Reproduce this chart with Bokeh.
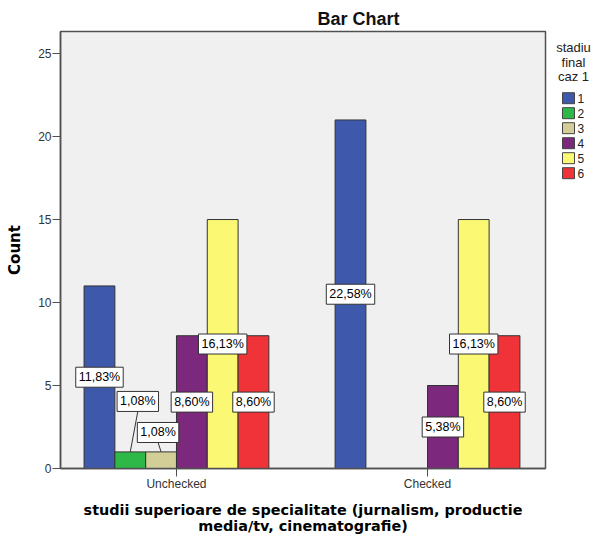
from bokeh.plotting import figure
from bokeh.layouts import row
from bokeh.models import ColumnDataSource, Range1d, FixedTicker
from bokeh.core.properties import value
from bokeh.embed import file_html
from bokeh.resources import INLINE

# ---- data ----
groups = ["Unchecked", "Checked"]
stages = ["1", "2", "3", "4", "5", "6"]
colors = ["#3E58AC", "#2EB848", "#D3CE97", "#7B287D", "#FBF873", "#EF3338"]
counts_unchecked = [11, 1, 1, 8, 15, 8]
counts_checked = [21, 0, 0, 5, 15, 8]
pct_unchecked = ["11,83%", "1,08%", "1,08%", "8,60%", "16,13%", "8,60%"]
pct_checked = ["22,58%", "", "", "5,38%", "16,13%", "8,60%"]
y_ticks = [0, 5, 10, 15, 20, 25]
legend_title = ["stadiu", "final", "caz 1"]

# ---- layout constants ----
BAR_W = 0.1227
FONT = "Liberation Sans"
TITLE_FONT = "DejaVu Sans"
# callout (leader-line) labels for small bars: (group index, stage index) -> (dx, label_y)
callouts = {(0, 1): (0.03, 4.04), (0, 2): (-0.012, 2.17)}
BOX_HALF = 0.6

p = figure(width=547, height=536, output_backend="svg", toolbar_location=None,
           x_range=Range1d(-0.462, 1.470), y_range=Range1d(0, 26.33),
           min_border_left=60, min_border_right=2, min_border_top=31, min_border_bottom=68)
p.background_fill_color = "#F0F0F0"
p.border_fill_color = "white"
p.outline_line_color = "#505050"
p.outline_line_width = 1.5
p.xgrid.visible = False
p.ygrid.visible = False

p.title.text = "Bar Chart"
p.title.align = "left"
p.title.offset = 257
p.title.standoff = 5
p.title.text_font = FONT
p.title.text_font_style = "bold"
p.title.text_font_size = "18px"
p.title.text_color = "#111111"

counts = [counts_unchecked, counts_checked]
pcts = [pct_unchecked, pct_checked]

for si, st in enumerate(stages):
    xs = [gi + (si - 2.5) * BAR_W for gi in range(len(groups))]
    tops = [counts[gi][si] for gi in range(len(groups))]
    src = ColumnDataSource(dict(x=xs, top=tops))
    p.vbar(x="x", top="top", width=BAR_W, source=src, fill_color=colors[si],
           line_color="#333333", line_width=1)

# percentage labels
lx, ly, lt = [], [], []
sx0, sy0, sx1, sy1 = [], [], [], []
for gi in range(len(groups)):
    for si in range(len(stages)):
        c = counts[gi][si]
        if c <= 0:
            continue
        bx = gi + (si - 2.5) * BAR_W
        if (gi, si) in callouts:
            dx, yy = callouts[(gi, si)]
            lx.append(bx + dx)
            ly.append(yy)
            sx0.append(bx + dx); sy0.append(yy - BOX_HALF)
            sx1.append(bx); sy1.append(c)
        else:
            lx.append(bx)
            ly.append(c / 2)
        lt.append(pcts[gi][si])

p.segment(x0=sx0, y0=sy0, x1=sx1, y1=sy1, line_color="#333333", line_width=1)
p.text(x=lx, y=ly, text=lt, text_font=value(FONT), text_font_size="12.5px",
       text_align="center", text_baseline="middle", text_color="black",
       background_fill_color="white", border_line_color="#333333", border_line_width=1,
       padding=3)

# axes
p.yaxis.ticker = FixedTicker(ticks=y_ticks)
p.xaxis.ticker = FixedTicker(ticks=[0, 1])
p.xaxis.major_label_overrides = {0: groups[0], 1: groups[1]}
for ax in (p.xaxis, p.yaxis):
    ax.axis_line_color = "#505050"
    ax.axis_line_width = 1.5
    ax.major_tick_line_color = "#505050"
    ax.major_tick_line_width = 1
    ax.minor_tick_line_color = None
    ax.major_tick_in = 0
    ax.major_label_text_font = FONT
    ax.major_label_text_font_size = "12px"
    ax.major_label_text_color = "#333333"
    ax.axis_label_text_font = TITLE_FONT
    ax.axis_label_text_font_style = "bold"
    ax.axis_label_text_color = "black"
p.yaxis.major_tick_out = 8
p.yaxis.major_label_standoff = 1
p.yaxis.axis_label = "Count"
p.yaxis.axis_label_text_font_size = "15px"
p.yaxis.axis_label_standoff = 11
p.xaxis.major_tick_out = 8
p.xaxis.major_label_standoff = 0
p.xaxis.axis_label = "studii superioare de specialitate (jurnalism, productie\nmedia/tv, cinematografie)"
p.xaxis.axis_label_text_font_size = "14.4px"
p.xaxis.axis_label_text_line_height = 1.0
p.xaxis.axis_label_standoff = 8

# ---- legend panel (separate narrow figure; its frame aligns with the main frame,
#      so the y range below maps straight to page pixels, downward) ----
LW = 48
q = figure(width=LW, height=536, output_backend="svg", toolbar_location=None,
           x_range=Range1d(0, LW), y_range=Range1d(468, 31),
           x_axis_type=None, y_axis_type=None, min_border=0)
q.outline_line_color = None
q.background_fill_color = "white"
q.border_fill_color = "white"
q.xgrid.visible = False
q.ygrid.visible = False

TITLE_X, TITLE_Y0, TITLE_DY = 26, 47, 14.5
ROW_Y0, ROW_DY, SQ_X, LBL_X = 97.7, 15.0, 21, 30
q.text(x=[TITLE_X] * len(legend_title), y=[TITLE_Y0 + i * TITLE_DY for i in range(len(legend_title))],
       text=legend_title, text_font=value(FONT), text_font_size="13px",
       text_align="center", text_baseline="middle", text_color="#222222")
ys = [ROW_Y0 + i * ROW_DY for i in range(len(stages))]
q.rect(x=[SQ_X] * len(stages), y=ys, width=12, height=11, fill_color=colors,
       line_color="#444444", line_width=1)
q.text(x=[LBL_X] * len(stages), y=ys, text=stages, text_font=value(FONT),
       text_font_size="12px", text_align="left", text_baseline="middle", text_color="#222222")

layout = row(p, q, spacing=0)
open("out.html", "w").write(file_html(layout, INLINE))
